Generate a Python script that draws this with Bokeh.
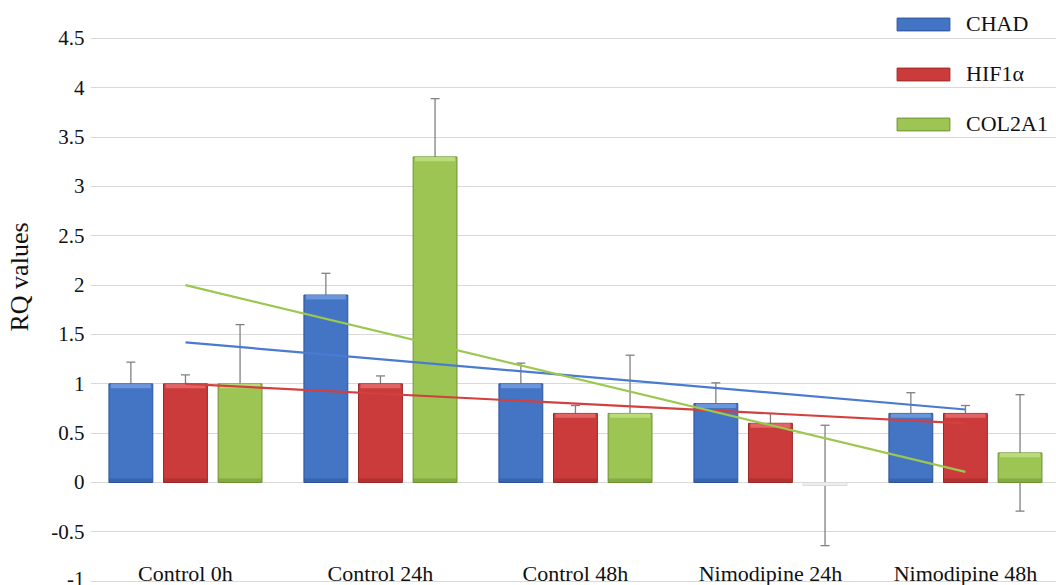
import numpy as np
from bokeh.plotting import figure
from bokeh.models import (Range1d, FixedTicker, ColumnDataSource, Whisker, TeeHead,
                          Legend, LegendItem, Title)
from bokeh.core.properties import value
from bokeh.embed import file_html
from bokeh.resources import INLINE

# ---------------- data ----------------
groups = ["Control 0h", "Control 24h", "Control 48h", "Nimodipine 24h", "Nimodipine 48h"]
series = ["CHAD", "HIF1\u03b1", "COL2A1"]
chad = [1.0, 1.9, 1.0, 0.8, 0.7]
chad_err = [0.22, 0.22, 0.21, 0.21, 0.21]
hif = [1.0, 1.0, 0.7, 0.6, 0.7]
hif_err = [0.09, 0.08, 0.08, 0.1, 0.08]
col = [1.0, 3.3, 0.7, -0.03, 0.3]
col_err = [0.6, 0.59, 0.59, 0.61, 0.59]
tick_values = [-1, -0.5, 0, 0.5, 1, 1.5, 2, 2.5, 3, 3.5, 4, 4.5]
tick_labels = ["-1", "-0.5", "0", "0.5", "1", "1.5", "2", "2.5", "3", "3.5", "4", "4.5"]

# ---------------- styles ----------------
FONT = "'Liberation Serif', serif"
base = ["#4474c4", "#cc3b3b", "#9cc553"]
edge = ["#2d5597", "#992828", "#6e9234"]
hilite = ["#7aa2e4", "#e87474", "#c4e487"]
trend = ["#4a7bd0", "#d2413f", "#9cc850"]
neg_fill, neg_edge = "#efefef", "#dadada"
offsets = [-0.28, 0.0, 0.28]
bar_w = 0.225

p = figure(width=1056, height=585, output_backend="svg", toolbar_location=None,
           x_range=Range1d(-0.487, 4.467), y_range=Range1d(-1.044, 4.885),
           x_axis_location=None, min_border_left=90, min_border_right=0,
           min_border_top=0, min_border_bottom=0)
p.outline_line_color = None
p.background_fill_color = "white"
p.xgrid.visible = False
p.ygrid.grid_line_color = "#d9d9d9"
p.ygrid.grid_line_width = 1

ax = p.yaxis[0]
ax.ticker = FixedTicker(ticks=tick_values)
ax.major_label_overrides = {v: s for v, s in zip(tick_values, tick_labels)}
ax.axis_line_color = None
ax.major_tick_line_color = None
ax.minor_tick_line_color = None
ax.major_tick_out = 0
ax.major_tick_in = 0
ax.major_label_standoff = 6
ax.major_label_text_font = FONT
ax.major_label_text_font_size = "21px"
ax.major_label_text_color = "#111111"
# invisible spacer so the title sits further out, as in the reference
ax.axis_label = " "
ax.axis_label_text_font_size = "8px"
ax.axis_label_standoff = 3

idx = np.arange(len(groups))
renderers = []
sources = []
for k, (vals, errs) in enumerate([(chad, chad_err), (hif, hif_err), (col, col_err)]):
    vals = np.array(vals, dtype=float)
    errs = np.array(errs, dtype=float)
    xs = idx + offsets[k]
    fills = [neg_fill if v < 0 else base[k] for v in vals]
    lines = [neg_edge if v < 0 else edge[k] for v in vals]
    src = ColumnDataSource(dict(x=xs, top=vals, fill=fills, line=lines,
                                upper=vals + errs, lower=vals - errs))
    r = p.vbar(x="x", top="top", bottom=0, width=bar_w, source=src,
               fill_color="fill", line_color="line", line_width=1)
    renderers.append(r)
    sources.append(src)
    pos = vals > 0
    hsrc = ColumnDataSource(dict(x=xs[pos], top=vals[pos], bottom=vals[pos] - 0.045))
    p.vbar(x="x", top="top", bottom="bottom", width=bar_w - 0.02, source=hsrc,
           fill_color=hilite[k], fill_alpha=0.75, line_color=None)
    ssrc = ColumnDataSource(dict(x=xs[pos], top=np.minimum(vals[pos], 0.04),
                                 bottom=np.zeros(pos.sum())))
    p.vbar(x="x", top="top", bottom="bottom", width=bar_w, source=ssrc,
           fill_color=edge[k], fill_alpha=0.5, line_color=None)

# trend lines (linear fits)
for k, vals in enumerate([chad, hif, col]):
    coef = np.polyfit(idx, np.array(vals, dtype=float), 1)
    ends = np.array([idx[0], idx[-1]])
    p.line(ends, np.polyval(coef, ends), line_color=trend[k], line_width=2.2)

# error bars
for src in sources:
    w = Whisker(base="x", upper="upper", lower="lower", source=src,
                line_color="#808080", line_width=1.3,
                upper_head=TeeHead(size=9, line_color="#808080", line_width=1.3),
                lower_head=TeeHead(size=9, line_color="#808080", line_width=1.3))
    p.add_layout(w)

# category labels
p.text(x=idx, y=[-1.0] * len(groups), text=groups, text_align="center",
       text_baseline="alphabetic", y_offset=-8, text_font=value(FONT),
       text_font_size="22px", text_color="#111111")

# y axis title
p.add_layout(Title(text="RQ values", align="left", offset=254, standoff=0,
                   text_font=FONT, text_font_size="26px", text_font_style="normal",
                   text_color="#111111"), "left")

legend = Legend(items=[LegendItem(label=series[k], renderers=[renderers[k]], index=0) for k in range(3)],
                location=(800, 448), glyph_width=66, glyph_height=16, label_standoff=10,
                label_text_font=FONT, label_text_font_size="22px", label_text_color="#111111",
                padding=0, margin=0, spacing=24, border_line_color=None,
                background_fill_alpha=0)
p.add_layout(legend)

open("out.html", "w").write(file_html(p, INLINE))
